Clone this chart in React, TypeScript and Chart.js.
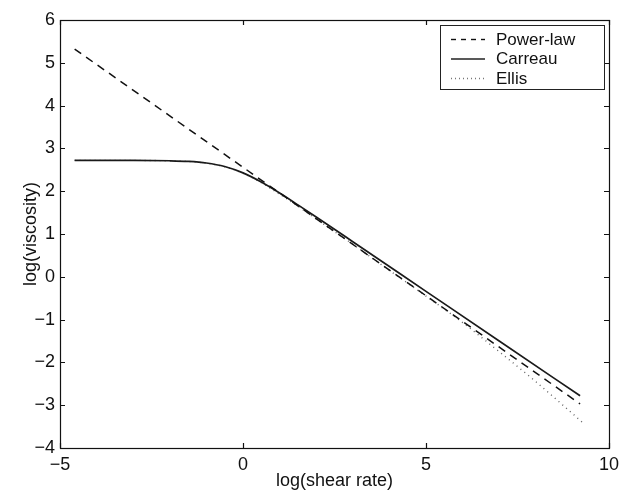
import React, { useEffect, useRef } from "react";
import { Chart, registerables } from "chart.js";
Chart.register(...registerables);

const seriesNames = ["Power-law", "Carreau", "Ellis"];

const powerX = [-4.6, 9.21];
const powerY = [5.32, -2.97];

const carreauX = [-4.6, -3, -2, -1.5, -1, -0.5, 0, 0.5, 1, 1.5, 2, 3, 5, 7, 9.21];
const carreauY = [2.72, 2.72, 2.711, 2.696, 2.659, 2.577, 2.428, 2.214, 1.958, 1.681, 1.397, 0.82, -0.34, -1.5, -2.78];

const ellisX = [-4.6, -3, -2, -1.5, -1, -0.5, 0, 0.5, 1, 1.5, 2, 3, 4, 5, 6, 7, 8, 9.3];
const ellisY = [2.72, 2.72, 2.71, 2.695, 2.655, 2.57, 2.42, 2.2, 1.93, 1.65, 1.35, 0.76, 0.15, -0.45, -1.07, -1.75, -2.45, -3.42];

const xTicks = [-5, 0, 5, 10];
const yTicks = [-4, -3, -2, -1, 0, 1, 2, 3, 4, 5, 6];

const FONT = "'Liberation Sans', Arial, sans-serif";

const pts = (xs: number[], ys: number[]) => xs.map((x, i) => ({ x, y: ys[i] }));
const fmt = (v: number) => (v < 0 ? "\u2212" + Math.abs(v) : String(v));

const boxPlugin = {
  id: "boxTicks",
  afterDraw(chart: any) {
    const { ctx, chartArea } = chart;
    const { left, right, top, bottom } = chartArea;
    const xs = chart.scales.x;
    const ys = chart.scales.y;
    ctx.save();
    ctx.strokeStyle = "#111";
    ctx.lineWidth = 1.2;
    ctx.setLineDash([]);
    ctx.strokeRect(left + 0.5, top + 0.5, right - left, bottom - top);
    const L = 5;
    ctx.beginPath();
    xTicks.forEach((v) => {
      const px = Math.round(xs.getPixelForValue(v)) + 0.5;
      ctx.moveTo(px, bottom);
      ctx.lineTo(px, bottom - L);
      ctx.moveTo(px, top);
      ctx.lineTo(px, top + L);
    });
    yTicks.forEach((v) => {
      const py = Math.round(ys.getPixelForValue(v)) + 0.5;
      ctx.moveTo(left, py);
      ctx.lineTo(left + L, py);
      ctx.moveTo(right, py);
      ctx.lineTo(right - L, py);
    });
    ctx.stroke();

    // legend box
    const lx = 440, ly = 25, lw = 164, lh = 64;
    ctx.fillStyle = "#fff";
    ctx.fillRect(lx, ly, lw, lh);
    ctx.strokeStyle = "#222";
    ctx.lineWidth = 1;
    ctx.strokeRect(lx + 0.5, ly + 0.5, lw, lh);
    const dashes = [[5, 5], [], [1, 3]];
    const colors = ["#111", "#222", "#777"];
    ctx.font = `17px ${FONT}`;
    ctx.textBaseline = "middle";
    ctx.textAlign = "left";
    seriesNames.forEach((name, i) => {
      const y = ly + 14 + i * 19.5;
      ctx.beginPath();
      ctx.setLineDash(dashes[i]);
      ctx.strokeStyle = colors[i];
      ctx.lineWidth = 1.4;
      ctx.moveTo(451, y + 0.5);
      ctx.lineTo(485, y + 0.5);
      ctx.stroke();
      ctx.setLineDash([]);
      ctx.fillStyle = "#111";
      ctx.fillText(name, 496, y + 1);
    });
    ctx.restore();
  },
};

export default function App() {
  const ref = useRef<HTMLCanvasElement | null>(null);
  useEffect(() => {
    if (!ref.current) return;
    const chart = new Chart(ref.current, {
      type: "scatter",
      data: {
        datasets: [
          {
            label: seriesNames[0],
            data: pts(powerX, powerY),
            showLine: true,
            borderColor: "#111",
            borderWidth: 1.5,
            borderDash: [8, 6],
            pointRadius: 0,
          },
          {
            label: seriesNames[1],
            data: pts(carreauX, carreauY),
            showLine: true,
            borderColor: "#1a1a1a",
            borderWidth: 1.7,
            pointRadius: 0,
            cubicInterpolationMode: "monotone",
          },
          {
            label: seriesNames[2],
            data: pts(ellisX, ellisY),
            showLine: true,
            borderColor: "#666",
            borderWidth: 1.4,
            borderDash: [1, 4],
            pointRadius: 0,
            cubicInterpolationMode: "monotone",
          },
        ],
      },
      options: {
        animation: false,
        responsive: false,
        maintainAspectRatio: false,
        layout: { padding: { top: 20, right: 12, left: 0, bottom: 0 } },
        plugins: { legend: { display: false }, tooltip: { enabled: false } },
        scales: {
          x: {
            type: "linear",
            min: -5,
            max: 10,
            afterBuildTicks: (s: any) => {
              s.ticks = xTicks.map((v) => ({ value: v }));
            },
            afterFit: (s: any) => {
              s.height = 44;
              s.paddingLeft = 0;
              s.paddingRight = 0;
            },
            grid: { display: false, drawTicks: false },
            border: { display: false },
            ticks: { color: "#111", font: { family: FONT, size: 18 }, padding: 6, maxRotation: 0, callback: (v: any) => fmt(Number(v)) },
            title: {
              display: true,
              text: "log(shear rate)",
              color: "#111",
              font: { family: FONT, size: 18 },
              padding: { top: 0, bottom: 0 },
            },
          },
          y: {
            type: "linear",
            min: -4,
            max: 6,
            afterBuildTicks: (s: any) => {
              s.ticks = yTicks.map((v) => ({ value: v }));
            },
            afterFit: (s: any) => {
              s.width = 60;
              s.paddingTop = 0;
              s.paddingBottom = 0;
            },
            grid: { display: false, drawTicks: false },
            border: { display: false },
            ticks: { color: "#111", font: { family: FONT, size: 18 }, padding: 5, callback: (v: any) => fmt(Number(v)) },
            title: {
              display: true,
              text: "log(viscosity)",
              color: "#111",
              font: { family: FONT, size: 18 },
              padding: { top: 20, bottom: 0 },
            },
          },
        },
      },
      plugins: [boxPlugin],
    });
    return () => chart.destroy();
  }, []);
  return (
    <div style={{ position: "absolute", left: 0, top: 0, width: 621, height: 492, background: "#fff" }}>
      <canvas ref={ref} width={621} height={492} style={{ width: 621, height: 492 }} />
    </div>
  );
}
